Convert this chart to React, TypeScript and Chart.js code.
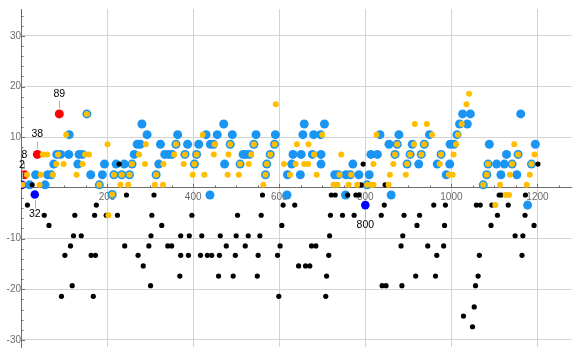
import React, { useEffect, useRef } from "react";
import { Chart, registerables } from "chart.js";

Chart.register(...registerables);

type P = [number, number];

// ---- data (x, y) ----
const bluePoints: P[] = [
  [20, 0.6], [56, 0.6], [182, 0.6], [804, 0.6], [1074, 0.6],
  [34, 2.6], [62, 2.6], [70, 2.6], [162, 2.6], [189, 2.6], [216, 2.6], [234, 2.6], [252, 2.6], [314, 2.6],
  [568, 2.6], [619, 2.6], [649, 2.6], [729, 2.6], [737, 2.6], [755, 2.6], [765, 2.6], [785, 2.6], [809, 2.6],
  [988, 2.6], [1082, 2.6], [1115, 2.6], [1152, 2.6],
  [76, 4.7], [132, 4.7], [194, 4.7], [221, 4.7], [240, 4.7], [258, 4.7], [320, 4.7], [403, 4.7], [473, 4.7],
  [509, 4.7], [571, 4.7], [629, 4.7], [697, 4.7], [771, 4.7], [897, 4.7], [924, 4.7], [967, 4.7], [996, 4.7],
  [1085, 4.7], [1105, 4.7], [1123, 4.7], [1141, 4.7], [1186, 4.7],
  [83, 6.6], [92, 6.6], [111, 6.6], [135, 6.6], [143, 6.6], [263, 6.6], [334, 6.6], [343, 6.6], [351, 6.6],
  [381, 6.6], [408, 6.6], [516, 6.6], [523, 6.6], [531, 6.6], [579, 6.6], [632, 6.6], [651, 6.6], [677, 6.6],
  [697, 6.6], [813, 6.6], [828, 6.6], [869, 6.6], [904, 6.6], [930, 6.6], [976, 6.6], [1128, 6.6], [1155, 6.6],
  [270, 8.6], [277, 8.6], [324, 8.6], [360, 8.6], [387, 8.6], [413, 8.6], [440, 8.6], [447, 8.6], [486, 8.6],
  [541, 8.6], [589, 8.6], [855, 8.6], [874, 8.6], [909, 8.6], [937, 8.6], [997, 8.6], [1006, 8.6], [1088, 8.6],
  [1195, 8.6],
  [112, 10.5], [293, 10.5], [364, 10.5], [430, 10.5], [456, 10.5], [491, 10.5], [546, 10.5], [591, 10.5],
  [655, 10.5], [680, 10.5], [696, 10.5], [834, 10.5], [878, 10.5], [949, 10.5], [1013, 10.5],
  [281, 12.6], [471, 12.6], [658, 12.6], [705, 12.6], [1019, 12.6], [1037, 12.6],
  [153, 14.6], [1026, 14.6], [1044, 14.6], [1161, 14.6],
  [212, -1.3], [439, -1.4], [618, -1.4], [754, -1.4], [860, -1.4], [1177, -3.4],
];

const orangePoints: P[] = [
  [4, 0.6], [43, 0.6], [182, 0.6], [231, 0.6], [249, 0.6], [311, 0.6], [330, 0.6], [563, 0.6], [726, 0.6],
  [735, 0.6], [761, 0.6], [781, 0.6], [804, 0.6], [814, 0.6], [819, 0.6], [854, 0.6], [1074, 0.6], [1113, 0.6],
  [1175, 0.6],
  [14, 2.6], [46, 2.6], [74, 2.6], [129, 2.6], [216, 2.6], [234, 2.6], [252, 2.6], [314, 2.6], [399, 2.6],
  [426, 2.6], [480, 2.6], [506, 2.6], [568, 2.6], [625, 2.6], [687, 2.6], [740, 2.6], [767, 2.6], [857, 2.6],
  [894, 2.6], [994, 2.6], [1003, 2.6], [1082, 2.6], [1136, 2.6], [1182, 2.6],
  [82, 4.7], [99, 4.7], [143, 4.7], [258, 4.7], [288, 4.7], [331, 4.7], [378, 4.7], [403, 4.7], [509, 4.7],
  [529, 4.7], [571, 4.7], [611, 4.7], [638, 4.7], [658, 4.7], [667, 4.7], [819, 4.7], [865, 4.7], [897, 4.7],
  [973, 4.7], [1085, 4.7], [1141, 4.7], [1186, 4.7],
  [51, 6.6], [61, 6.6], [86, 6.6], [149, 6.6], [158, 6.6], [274, 6.6], [356, 6.6], [381, 6.6], [408, 6.6],
  [448, 6.6], [482, 6.6], [535, 6.6], [579, 6.6], [681, 6.6], [744, 6.6], [869, 6.6], [904, 6.6], [930, 6.6],
  [976, 6.6], [1005, 6.6], [1155, 6.6], [1193, 6.6],
  [201, 8.6], [290, 8.6], [360, 8.6], [450, 8.6], [486, 8.6], [541, 8.6], [589, 8.6], [641, 8.6], [668, 8.6],
  [874, 8.6], [913, 8.6], [937, 8.6], [1011, 8.6], [1146, 8.6],
  [105, 10.5], [422, 10.5], [700, 10.5], [826, 10.5], [955, 10.5], [1015, 10.5],
  [915, 12.6], [943, 12.6], [1024, 12.6],
  [153, 14.6], [592, 16.5], [1035, 16.5], [1041, 18.6],
  [212, -1.3], [1126, -1.4], [1134, -1.4], [1102, -3.4], [203, -5.4],
];

const blackPoints: P[] = [
  [26, 0.6], [790, 0.6], [846, 0.6], [228, 4.7], [795, 4.7], [1201, 4.7],
  [245, -1.4], [309, -1.4], [561, -1.4], [721, -1.4], [730, -1.4], [759, -1.4], [778, -1.4], [785, -1.4],
  [1111, -1.4], [1116, -1.4], [1172, -1.4],
  [15, -3.4], [175, -3.4], [609, -3.4], [636, -3.4], [844, -3.4], [959, -3.4], [986, -3.4], [1058, -3.4],
  [1067, -3.4], [1094, -3.4], [1132, -3.4],
  [54, -5.4], [125, -5.4], [171, -5.4], [198, -5.4], [224, -5.4], [304, -5.4], [397, -5.4], [503, -5.4],
  [558, -5.4], [719, -5.4], [747, -5.4], [774, -5.4], [837, -5.4], [890, -5.4], [926, -5.4], [1107, -5.4],
  [1171, -5.4],
  [65, -7.4], [327, -7.4], [606, -7.4], [920, -7.4], [984, -7.4], [1092, -7.4], [1192, -7.4],
  [122, -9.45], [140, -9.45], [302, -9.45], [371, -9.45], [391, -9.45], [420, -9.45], [463, -9.45],
  [500, -9.45], [528, -9.45], [555, -9.45], [717, -9.45], [887, -9.45], [1148, -9.45], [1166, -9.45],
  [115, -11.45], [241, -11.45], [297, -11.45], [341, -11.45], [350, -11.45], [477, -11.45], [521, -11.45],
  [602, -11.45], [675, -11.45], [685, -11.45], [883, -11.45], [945, -11.45], [982, -11.45],
  [102, -13.3], [163, -13.3], [173, -13.3], [272, -13.3], [371, -13.3], [389, -13.3], [417, -13.3],
  [433, -13.3], [443, -13.3], [461, -13.3], [498, -13.3], [551, -13.3], [596, -13.3], [715, -13.3],
  [966, -13.3], [1065, -13.3], [1164, -13.3],
  [284, -15.4], [645, -15.4], [661, -15.4], [671, -15.4],
  [369, -17.4], [459, -17.4], [493, -17.4], [549, -17.4], [710, -17.4], [917, -17.4], [963, -17.4],
  [1062, -17.4],
  [119, -19.3], [301, -19.3], [839, -19.3], [848, -19.3], [885, -19.3], [1056, -19.3],
  [94, -21.4], [168, -21.4], [599, -21.4], [708, -21.4],
  [1053, -23.5], [1028, -25.3], [1049, -27.4],
];

const redPoints: P[] = [[89, 14.6], [38, 6.6], [8, 2.6]];
const darkBluePoints: P[] = [[2, 0.6], [32, -1.3], [800, -3.4]];

const pointLabels: string[] = ["89", "38", "8", "2", "32", "800"];
const labelAnchors: P[] = [[89, 14.6], [38, 6.6], [8, 2.6], [2, 0.6], [32, -1.3], [800, -3.4]];
const labelAbove: boolean[] = [true, true, true, true, false, false];

const xTicks = [0, 200, 400, 600, 800, 1000, 1200];
const yTicks = [-30, -20, -10, 0, 10, 20, 30];

const toXY = (arr: P[]) => arr.map(([x, y]) => ({ x, y }));

const AXIS_COLOR = "#6e6e6e";
const GRID_COLOR = "#d3d3d3";

const minorTicksPlugin = {
  id: "minorTicks",
  beforeDatasetsDraw(chart: any) {
    const { ctx, scales, chartArea } = chart;
    const xs = scales.x, ys = scales.y;
    const y0 = ys.getPixelForValue(0);
    const x0 = xs.getPixelForValue(0);
    ctx.save();
    ctx.strokeStyle = AXIS_COLOR;
    ctx.lineWidth = 1;
    ctx.beginPath();
    for (let v = 50; v <= xs.max; v += 50) {
      const px = Math.round(xs.getPixelForValue(v)) + 0.5;
      const len = v % 200 === 0 ? 4 : 2.5;
      ctx.moveTo(px, y0);
      ctx.lineTo(px, y0 - len);
    }
    for (let v = -30; v <= 34; v += 2) {
      if (v === 0) continue;
      const py = Math.round(ys.getPixelForValue(v)) + 0.5;
      if (py < chartArea.top || py > chartArea.bottom) continue;
      const len = v % 10 === 0 ? 4 : 2.5;
      ctx.moveTo(x0, py);
      ctx.lineTo(x0 + len, py);
    }
    ctx.stroke();
    ctx.restore();
  },
};

const labelPlugin = {
  id: "pointLabelsCallout",
  afterDatasetsDraw(chart: any) {
    const { ctx, scales } = chart;
    ctx.save();
    ctx.font = "10.5px 'Liberation Sans', Arial, sans-serif";
    ctx.textAlign = "center";
    ctx.textBaseline = "middle";
    labelAnchors.forEach(([x, y], i) => {
      const px = scales.x.getPixelForValue(x);
      const py = scales.y.getPixelForValue(y);
      const s = labelAbove[i] ? -1 : 1;
      ctx.strokeStyle = "#b4b4b4";
      ctx.lineWidth = 1;
      ctx.beginPath();
      ctx.moveTo(Math.round(px) + 0.5, py + s * 5.5);
      ctx.lineTo(Math.round(px) + 0.5, py + s * (labelAbove[i] ? 13 : 14));
      ctx.stroke();
      ctx.fillStyle = "#000";
      ctx.fillText(pointLabels[i], px, py + s * 20);
    });
    ctx.restore();
  },
};

export default function App() {
  const ref = useRef<HTMLCanvasElement | null>(null);
  useEffect(() => {
    if (!ref.current) return;
    const tickFont = { family: "'Liberation Sans', Arial, sans-serif", size: 10 };
    const chart = new Chart(ref.current, {
      type: "scatter",
      data: {
        datasets: [
          { label: "orange", data: toXY(orangePoints), backgroundColor: "#ffbe00", borderWidth: 0, pointRadius: 3, pointHoverRadius: 3 },
          { label: "black", data: toXY(blackPoints), backgroundColor: "#000000", borderWidth: 0, pointRadius: 2.6, pointHoverRadius: 2.6 },
          { label: "red", data: toXY(redPoints), backgroundColor: "#ff0000", borderWidth: 0, pointRadius: 4.5, pointHoverRadius: 4.5 },
          { label: "darkblue", data: toXY(darkBluePoints), backgroundColor: "#0000ff", borderWidth: 0, pointRadius: 4.3, pointHoverRadius: 4.3 },
          { label: "blue", data: toXY(bluePoints), backgroundColor: "#1a96f2", borderWidth: 0, pointRadius: 4.5, pointHoverRadius: 4.5 },
        ],
      },
      options: {
        animation: false,
        responsive: false,
        maintainAspectRatio: false,
        layout: { padding: { left: 21, right: 0, top: 0, bottom: 0 } },
        plugins: { legend: { display: false }, tooltip: { enabled: false } },
        scales: {
          x: {
            type: "linear",
            min: 0,
            max: 1279,
            position: { y: 0 } as any,
            afterBuildTicks: (s: any) => { s.ticks = xTicks.map((v) => ({ value: v })); },
            ticks: {
              callback: (v: any) => (v === 0 ? "" : String(v)),
              color: "#6b6b6b",
              font: tickFont,
              padding: 3,
              maxRotation: 0,
              autoSkip: false,
            },
            grid: { color: GRID_COLOR, drawTicks: false, lineWidth: 1 },
            border: { display: true, color: AXIS_COLOR, width: 1 },
          },
          y: {
            type: "linear",
            min: -31.4,
            max: 35.3,
            position: { x: 0 } as any,
            afterBuildTicks: (s: any) => { s.ticks = yTicks.map((v) => ({ value: v })); },
            ticks: {
              callback: (v: any) => (v === 0 ? "" : String(v)),
              color: "#6b6b6b",
              font: tickFont,
              padding: 3,
              autoSkip: false,
            },
            grid: { color: GRID_COLOR, drawTicks: false, lineWidth: 1 },
            border: { display: true, color: AXIS_COLOR, width: 1 },
          },
        },
      },
      plugins: [minorTicksPlugin, labelPlugin],
    });
    return () => chart.destroy();
  }, []);
  return (
    <div style={{ position: "fixed", left: 0, top: 0, width: 576, height: 356, background: "#fff" }}>
      <canvas ref={ref} width={576} height={356} style={{ width: 576, height: 356, display: "block" }} />
    </div>
  );
}
